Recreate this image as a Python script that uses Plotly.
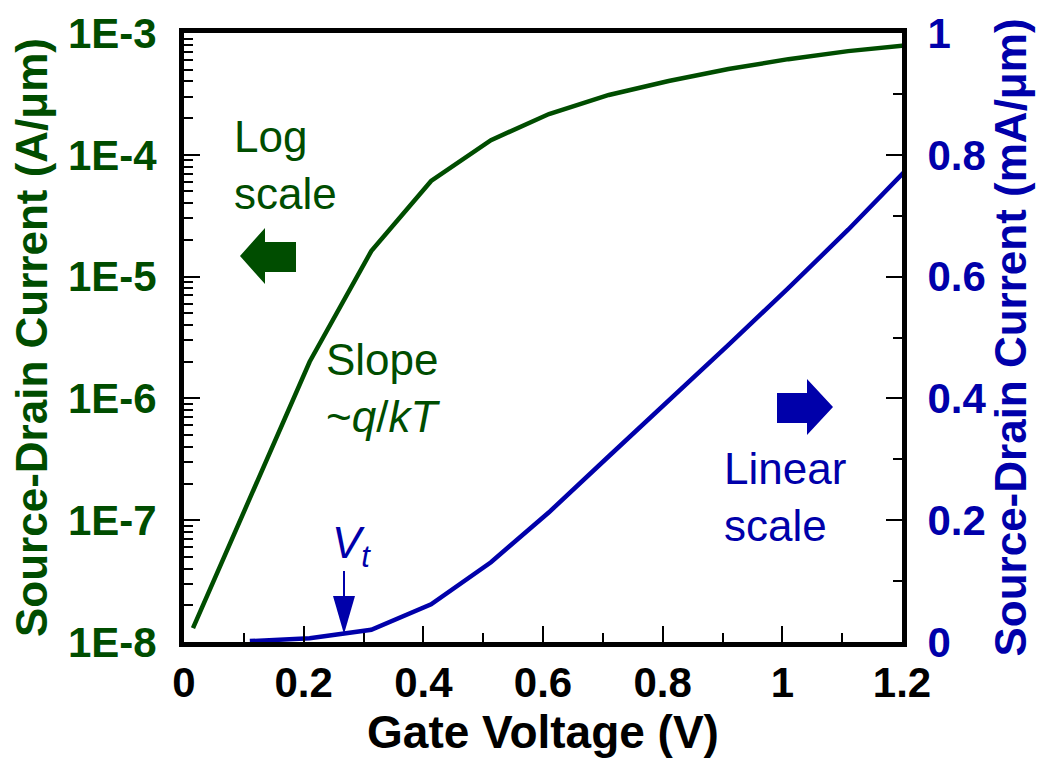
import plotly.graph_objects as go

# ---- data ----
gate_v_log = [0.015, 0.11, 0.21, 0.313, 0.413, 0.513, 0.61, 0.71, 0.81, 0.91, 1.01, 1.11, 1.21]
current_log = [1.3e-8, 1.5e-7, 2.0e-6, 1.62e-5, 6.1e-5, 1.32e-4, 2.16e-4, 3.1e-4, 4.04e-4, 5.06e-4, 6.1e-4, 7.1e-4, 7.95e-4]

gate_v_lin = [0.11, 0.21, 0.313, 0.413, 0.513, 0.61, 0.71, 0.81, 0.91, 1.01, 1.11, 1.21]
current_lin = [0.0015, 0.006, 0.02, 0.062, 0.131, 0.213, 0.305, 0.396, 0.488, 0.581, 0.677, 0.778]

log_tickvals = [1e-8, 1e-7, 1e-6, 1e-5, 1e-4, 1e-3]
log_ticktext = ["1E-8", "1E-7", "1E-6", "1E-5", "1E-4", "1E-3"]

GREEN = "#004d00"
BLUE = "#0000aa"
FONT = "Liberation Sans, Arial, sans-serif"

W, H = 1039, 759
L, R, T, B = 184, 137, 33, 117
PW, PH = W - L - R, H - T - B


def px(x):
    return (x - L) / PW


def py(y):
    return (H - B - y) / PH


def poly(points):
    return "M " + " L ".join(f"{px(x):.5f},{py(y):.5f}" for x, y in points) + " Z"


minor_log = [k * 10.0 ** d for d in range(-8, -3) for k in range(2, 10)]

fig = go.Figure()
fig.add_trace(go.Scatter(x=gate_v_log, y=current_log, mode="lines",
                         line=dict(color=GREEN, width=4.5), yaxis="y", showlegend=False))
fig.add_trace(go.Scatter(x=gate_v_lin, y=current_lin, mode="lines",
                         line=dict(color=BLUE, width=4.5), yaxis="y2", showlegend=False))

tickbase = dict(ticks="inside", ticklen=16, tickwidth=2, tickcolor="black",
                showline=True, linewidth=5, linecolor="black", showgrid=False, zeroline=False)

fig.update_layout(
    width=W, height=H,
    margin=dict(l=L, r=R, t=T, b=B, autoexpand=False),
    paper_bgcolor="white", plot_bgcolor="white",
    font=dict(family=FONT),
    xaxis=dict(range=[0, 1.2], dtick=0.2, tick0=0, mirror=True,
               minor=dict(dtick=0.1, ticks="inside", ticklen=9, tickwidth=2, tickcolor="black"),
               tickfont=dict(size=42, color="black", weight="bold"),
               title=dict(text="Gate Voltage (V)", font=dict(size=46, color="black", weight="bold"), standoff=4),
               **tickbase),
    yaxis=dict(type="log", range=[-8, -3], tickmode="array", tickvals=log_tickvals, ticktext=log_ticktext,
               minor=dict(tickmode="array", tickvals=minor_log, ticks="inside", ticklen=9, tickwidth=2,
                          tickcolor="black"),
               tickfont=dict(size=42, color=GREEN, weight="bold"),
               title=dict(text="Source-Drain Current (A/μm)", font=dict(size=44, color=GREEN, weight="bold"),
                          standoff=8),
               ticklabelstandoff=14,
               **tickbase),
    yaxis2=dict(range=[0, 1], dtick=0.2, tick0=0, overlaying="y", side="right",
                minor=dict(dtick=0.1, ticks="inside", ticklen=9, tickwidth=2, tickcolor="black"),
                tickfont=dict(size=42, color=BLUE, weight="bold"),
                title=dict(text="Source-Drain Current (mA/μm)", font=dict(size=44, color=BLUE, weight="bold"),
                           standoff=0),
                ticklabelstandoff=12,
                **tickbase),
)

shapes = [
    # green arrow pointing left
    dict(type="path", xref="paper", yref="paper", line=dict(width=0), fillcolor=GREEN,
         path=poly([(240, 256), (265, 228), (265, 242), (296, 242), (296, 272), (265, 272), (265, 284)])),
    # blue arrow pointing right
    dict(type="path", xref="paper", yref="paper", line=dict(width=0), fillcolor=BLUE,
         path=poly([(833, 407), (807, 379), (807, 393), (777, 393), (777, 423), (807, 423), (807, 435)])),
    # Vt arrow shaft
    dict(type="line", xref="paper", yref="paper", x0=px(344), x1=px(344), y0=py(571), y1=py(600),
         line=dict(color=BLUE, width=2)),
    # Vt arrow head
    dict(type="path", xref="paper", yref="paper", line=dict(width=0), fillcolor=BLUE,
         path=poly([(333, 596), (355, 596), (344, 634)])),
]
fig.update_layout(shapes=shapes)

ann_font = dict(family=FONT, size=44)
fig.add_annotation(xref="paper", yref="paper", x=px(232), y=py(110), xanchor="left", yanchor="top",
                   align="left", showarrow=False, text="Log<br>scale", font=dict(color=GREEN, **ann_font))
fig.add_annotation(xref="paper", yref="paper", x=px(324), y=py(333), xanchor="left", yanchor="top",
                   align="left", showarrow=False, text="Slope<br>~<i>q</i>/<i>kT</i>",
                   font=dict(color=GREEN, **ann_font))
fig.add_annotation(xref="paper", yref="paper", x=px(722), y=py(442), xanchor="left", yanchor="top",
                   align="left", showarrow=False, text="Linear<br>scale", font=dict(color=BLUE, **ann_font))
fig.add_annotation(xref="paper", yref="paper", x=px(330), y=py(516), xanchor="left", yanchor="top",
                   align="left", showarrow=False, text="<i>V<sub>t</sub></i>", font=dict(color=BLUE, **ann_font))

fig.write_html("out.html", config={"displayModeBar": False},
               post_script="document.body.style.margin='0';")
